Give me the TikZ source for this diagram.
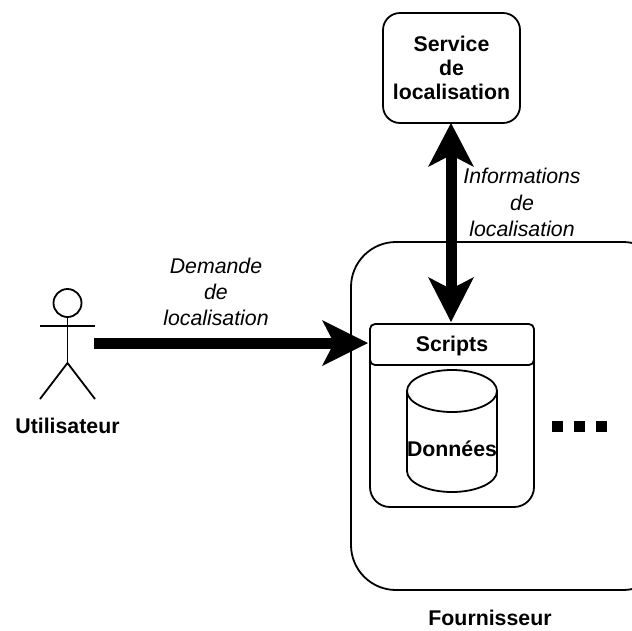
\documentclass[tikz,border=0pt]{standalone}
\usepackage{fontspec}
\setmainfont{Liberation Sans}
\usetikzlibrary{arrows.meta}
\tikzset{
 line/.style={draw=black,line width=1.8pt,outer sep=0pt},
 blabel/.style={font=\fontsize{21.3}{24}\selectfont\bfseries,align=center,inner sep=0pt,text=black},
 ilabel/.style={font=\fontsize{21.3}{26.3}\selectfont\itshape,align=center,inner sep=0pt,text=black},
 bigarrow/.style={draw=black,line width=11pt},
 headtip/.style={fill=black,draw=none},
 dotsq/.style={fill=black,draw=none,minimum size=11pt,inner sep=0pt,rectangle},
}
\begin{document}
\begin{tikzpicture}[x=1pt,y=-1pt]
\useasboundingbox (0,0) rectangle (632,630);
% provider box
\begin{scope}
\clip (0,0) rectangle (632,630);
\draw[line,rounded corners=45pt] (351,242) rectangle (668,590);
\end{scope}
% service box
\node[line,rounded corners=17pt,minimum width=137pt,minimum height=110pt,inner sep=0pt,anchor=north west] (service) at (383,13) {};
\node[blabel,anchor=center] at (451.5,68) {Service\\de\\localisation};
% swimlane
\draw[line,rounded corners=20pt] (370,350) -- (370,507) -- (534,507) -- (534,350);
\node[line,fill=white,rounded corners=5pt,minimum width=164pt,minimum height=41pt,inner sep=0pt,anchor=north west] (scripts) at (370,324) {};
\node[blabel,anchor=center] (scriptslabel) at (452,346) {Scripts};
% cylinder
\draw[line] (407,391) -- (407,471) arc[start angle=180,end angle=0,x radius=45,y radius=21] -- (497,391);
\draw[line] (452,391) ellipse[x radius=45,y radius=21];
\node[blabel,anchor=center] (data) at (452,449) {Données};
% dots
\node[dotsq] (d1) at (557.5,426.5) {};
\node[dotsq] (d2) at (579.5,426.5) {};
\node[dotsq] (d3) at (601.5,426.5) {};
% actor
\draw[line] (67.5,303) circle[radius=14];
\coordinate (neck) at (67.5,317);
\coordinate (hip) at (67.5,363);
\draw[line] (neck) -- (hip);
\draw[line] (40,326) -- (95,326);
\draw[line] (40,399) -- (hip) -- (95,399);
\node[blabel,anchor=center] (user) at (67.5,426) {Utilisateur};
% arrows
\coordinate (start) at (94,343);
\coordinate (stip) at (368,343);
\draw[bigarrow] (start) -- (340,343);
\fill[headtip] (stip) -- (322,320) -- (334,343) -- (322,366) -- cycle;
\coordinate (atop) at (451,123);
\coordinate (abot) at (451,322);
\draw[bigarrow] (451,150) -- (451,295);
\fill[headtip] (atop) -- (474,167) -- (451,155) -- (428,167) -- cycle;
\fill[headtip] (abot) -- (428,277) -- (451,289) -- (474,277) -- cycle;
% labels
\node[ilabel] (lab1) at (216,292) {Demande\\de\\localisation};
\node[ilabel] (lab2) at (522,202.5) {Informations\\de\\localisation};
\node[blabel] (prov) at (490,618) {Fournisseur};
\end{tikzpicture}
\end{document}
